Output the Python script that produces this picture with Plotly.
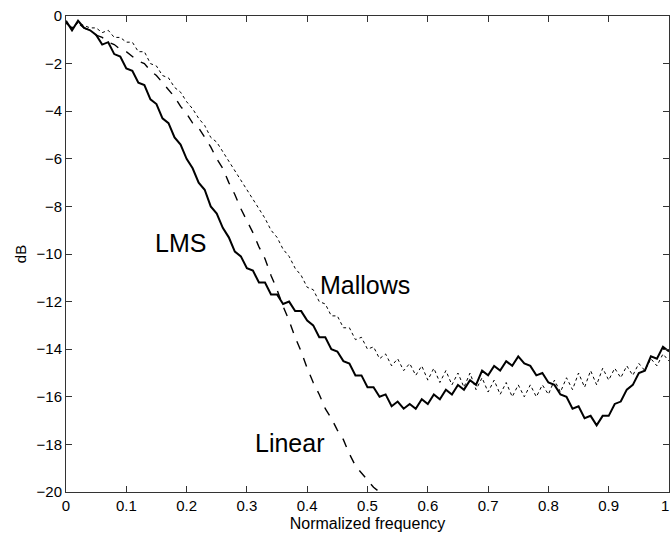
import plotly.graph_objects as go

freq = [round(i * 0.01, 2) for i in range(101)]

lms_db = [-0.2, -0.6, -0.2, -0.5, -0.6, -0.8, -1.2, -1.1, -1.6, -1.7,
          -2.2, -2.3, -2.8, -2.9, -3.5, -3.7, -4.3, -4.5, -5.1, -5.4,
          -6.0, -6.4, -7.0, -7.3, -8.0, -8.3, -8.9, -9.3, -9.9, -10.1,
          -10.6, -10.7, -11.2, -11.2, -11.7, -11.7, -12.1, -12.0, -12.4, -12.4,
          -12.8, -13.0, -13.5, -13.5, -14.0, -14.1, -14.5, -14.6, -15.1, -15.1,
          -15.6, -15.6, -16.0, -15.9, -16.4, -16.2, -16.5, -16.3, -16.5, -16.1,
          -16.3, -15.9, -16.1, -15.7, -15.9, -15.5, -15.7, -15.3, -15.5, -14.9,
          -15.1, -14.7, -14.9, -14.5, -14.7, -14.3, -14.6, -14.7, -15.1, -15.0,
          -15.4, -15.5, -15.9, -16.0, -16.5, -16.4, -16.9, -16.8, -17.2, -16.8,
          -16.8, -16.3, -16.2, -15.7, -15.5, -15.0, -14.9, -14.3, -14.4, -13.9,
          -14.1]

linear_freq = freq[:55]
linear_db = [-0.3, -0.5, -0.3, -0.5, -0.6, -0.8, -0.9, -1.1, -1.2, -1.4,
             -1.5, -1.7, -1.9, -2.0, -2.3, -2.5, -2.8, -3.1, -3.4, -3.8,
             -4.1, -4.5, -4.7, -5.1, -5.5, -6.0, -6.4, -7.0, -7.5, -8.1,
             -8.6, -9.1, -9.7, -10.2, -10.9, -11.5, -12.2, -12.8, -13.5, -14.1,
             -14.8, -15.4, -15.9, -16.5, -16.9, -17.4, -17.8, -18.4, -18.9, -19.2,
             -19.5, -19.8, -20.0, -20.4, -20.7]

mallows_db = [-0.3, -0.5, -0.3, -0.4, -0.5, -0.5, -0.7, -0.6, -0.9, -0.9,
              -1.1, -1.1, -1.5, -1.5, -2.0, -2.1, -2.5, -2.6, -3.0, -3.2,
              -3.6, -3.9, -4.3, -4.6, -5.1, -5.3, -5.7, -6.1, -6.5, -6.9,
              -7.3, -7.7, -8.1, -8.5, -9.0, -9.3, -9.8, -10.1, -10.6, -10.9,
              -11.4, -11.5, -12.0, -12.1, -12.6, -12.6, -13.1, -13.1, -13.6, -13.5,
              -14.0, -13.9, -14.4, -14.2, -14.7, -14.4, -14.9, -14.6, -15.1, -14.7,
              -15.3, -14.8, -15.4, -14.9, -15.5, -15.0, -15.6, -15.0, -15.7, -15.2,
              -15.8, -15.3, -15.9, -15.4, -16.0, -15.5, -16.0, -15.5, -16.0, -15.5,
              -15.9, -15.3, -15.8, -15.2, -15.7, -15.0, -15.6, -14.9, -15.5, -14.8,
              -15.3, -14.8, -15.2, -14.7, -15.1, -14.6, -14.9, -14.4, -14.7, -14.2,
              -14.5]

labels = ["LMS", "Mallows", "Linear"]
label_x = [0.19, 0.496, 0.372]
label_y = [-9.55, -11.3, -17.95]

x_ticks = [round(i * 0.1, 1) for i in range(10)]
x_tick_text = ["0", "0.1", "0.2", "0.3", "0.4", "0.5", "0.6", "0.7", "0.8", "0.9"]
x_last_tick = 1.0
x_last_text = "1"
y_ticks = list(range(-20, 1, 2))
y_tick_text = [str(v).replace("-", "\u2212") for v in y_ticks]

FONT = "Liberation Sans, Arial, sans-serif"

fig = go.Figure()
fig.add_trace(go.Scatter(x=freq, y=mallows_db, mode="lines",
                         line=dict(color="black", width=1, dash="dot"), name="Mallows"))
fig.add_trace(go.Scatter(x=linear_freq, y=linear_db, mode="lines",
                         line=dict(color="black", width=1.4, dash="dash"), name="Linear"))
fig.add_trace(go.Scatter(x=freq, y=lms_db, mode="lines",
                         line=dict(color="black", width=2), name="LMS"))

for t, xx, yy in zip(labels, label_x, label_y):
    fig.add_annotation(x=xx, y=yy, text=t, showarrow=False,
                       font=dict(size=25, color="black", family=FONT))

# last x tick label, kept inside the page at the right edge
fig.add_annotation(x=x_last_tick, xref="x", y=0, yref="paper", yanchor="top",
                   xanchor="right", xshift=2, yshift=-3, text=x_last_text,
                   showarrow=False,
                   font=dict(size=15, color="black", family=FONT))

axis_common = dict(showgrid=False, zeroline=False, showline=True, mirror="ticks",
                   linecolor="#333333", linewidth=1, ticks="inside", ticklen=6,
                   tickcolor="#333333", tickwidth=1,
                   tickfont=dict(size=15, color="black", family=FONT))

fig.update_xaxes(range=[0, 1], tickvals=x_ticks + [x_last_tick],
                 ticktext=x_tick_text + [""],
                 title=dict(text="Normalized frequency", standoff=4,
                            font=dict(size=16, color="black", family=FONT)),
                 **axis_common)
fig.update_yaxes(range=[-20, 0], tickvals=y_ticks, ticktext=y_tick_text,
                 title=dict(text="dB", standoff=6,
                            font=dict(size=15, color="black", family=FONT)),
                 **axis_common)

fig.update_layout(width=671, height=536, showlegend=False,
                  margin=dict(l=66, r=2, t=16, b=44),
                  paper_bgcolor="white", plot_bgcolor="white")

fig.write_html("out.html", config={"displayModeBar": False},
               post_script="document.body.style.margin='0';document.body.style.overflow='hidden';")
